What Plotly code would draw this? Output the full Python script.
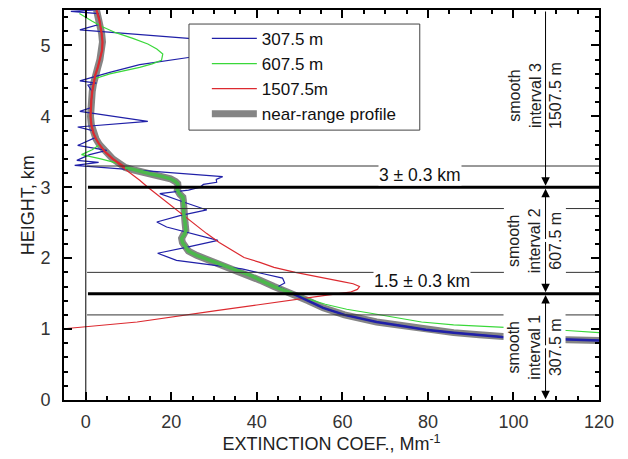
import plotly.graph_objects as go

# ---------------- data (height km, extinction Mm^-1) ----------------
near_profile = [
    (5.5, 2.5), (5.35, 3.2), (5.17, 3.7), (5.05, 3.9), (4.93, 3.8), (4.8, 3.3), (4.69, 2.8),
    (4.58, 2.2), (4.46, 1.8), (4.35, 1.5), (4.23, 1.3), (4.1, 1.1), (4.0, 1.1), (3.88, 1.3),
    (3.76, 1.8), (3.68, 2.4), (3.6, 3.2), (3.5, 4.5), (3.4, 6.3), (3.33, 8.0), (3.28, 9.2),
    (3.24, 11.5), (3.19, 15.0), (3.15, 18.0), (3.12, 19.8), (3.08, 21.0), (3.05, 21.5),
    (3.0, 21.6), (2.96, 21.4), (2.9, 22.0), (2.86, 22.7), (2.82, 22.8), (2.75, 22.8),
    (2.63, 22.9), (2.5, 23.2), (2.39, 23.4), (2.33, 23.0), (2.28, 22.4), (2.22, 22.6),
    (2.16, 23.2), (2.1, 24.0), (2.04, 25.9), (1.98, 28.5), (1.93, 30.6), (1.86, 33.8),
    (1.8, 36.8), (1.75, 38.8), (1.69, 40.7), (1.6, 44.0), (1.5, 48.4), (1.4, 52.0),
    (1.3, 55.5), (1.2, 60.5), (1.1, 68.0), (1.03, 75.5), (0.99, 79.5), (0.95, 86.0),
    (0.92, 92.0), (0.89, 97.3), (0.87, 104.0), (0.85, 112.5), (0.84, 120.0),
]

blue_307 = [
    (5.5, 2.5), (5.48, -3.5), (5.45, 2.9), (5.3, 3.4), (5.22, -1.4), (5.1, 24.0), (5.0, 32.0),
    (4.88, 30.0), (4.83, 24.0), (4.79, 19.6), (4.73, 12.6), (4.62, 5.6), (4.58, 3.3),
    (4.5, -1.4), (4.47, 2.5), (4.44, 0.5), (4.35, 1.5), (4.23, 1.3), (4.12, 1.1), (4.07, -1.4),
    (3.93, 14.5), (3.85, -1.9), (3.8, 1.6), (3.7, 2.2), (3.59, -1.9), (3.52, 4.9), (3.46, 0.9),
    (3.38, -2.1), (3.35, 3.0), (3.31, -2.6), (3.15, 32.0), (3.11, 30.5), (3.07, 30.6),
    (3.04, 27.5), (3.0, 26.7), (2.96, 24.0), (2.91, 17.3), (2.8, 22.5), (2.68, 28.3),
    (2.6, 22.0), (2.51, 16.6), (2.44, 18.9), (2.25, 30.9), (2.16, 24.0), (2.07, 16.8),
    (1.97, 21.2), (1.9, 30.0), (1.85, 36.5), (1.78, 41.5), (1.72, 46.0), (1.65, 46.5),
    (1.6, 45.0), (1.52, 47.7), (1.4, 51.8), (1.3, 55.5), (1.2, 60.5), (1.1, 68.0),
    (1.03, 75.5), (0.99, 79.5), (0.95, 86.0), (0.92, 92.0), (0.89, 97.3), (0.87, 104.0),
    (0.85, 112.5), (0.84, 120.0),
]

green_607 = [
    (5.45, -1.5), (5.42, -0.7), (5.34, 1.5), (5.26, 4.0), (5.18, 7.0), (5.1, 11.0),
    (5.02, 14.5), (4.95, 16.6), (4.88, 18.0), (4.79, 17.7), (4.74, 15.5), (4.69, 12.6),
    (4.6, 5.6), (4.53, 2.1), (4.46, 1.8), (4.35, 1.5), (4.23, 1.3), (4.1, 1.1), (4.0, 1.1),
    (3.88, 1.3), (3.76, 1.8), (3.68, 2.4), (3.6, 3.2), (3.53, 1.5), (3.46, -1.0), (3.4, 3.5),
    (3.33, 8.0), (3.28, 9.2), (3.24, 11.5), (3.19, 15.0), (3.15, 18.0), (3.12, 19.8),
    (3.08, 21.0), (3.05, 21.5), (3.0, 21.6), (2.96, 21.4), (2.9, 22.0), (2.86, 22.7),
    (2.82, 22.8), (2.75, 22.8), (2.63, 22.9), (2.5, 23.2), (2.39, 23.4), (2.33, 23.0),
    (2.28, 22.4), (2.22, 22.6), (2.16, 23.2), (2.1, 24.0), (2.04, 25.9), (1.98, 28.5),
    (1.93, 30.6), (1.86, 33.8), (1.8, 36.8), (1.75, 38.8), (1.69, 40.7), (1.6, 44.0),
    (1.5, 48.6), (1.43, 51.7), (1.35, 56.0), (1.28, 61.0), (1.22, 67.0), (1.15, 73.5),
    (1.1, 78.5), (1.06, 86.0), (1.03, 97.0), (1.0, 106.0), (0.98, 112.5), (0.95, 120.0),
]

red_1507 = [
    (5.5, 2.5), (5.35, 3.2), (5.17, 3.7), (5.05, 3.9), (4.93, 3.8), (4.8, 3.3), (4.69, 2.8),
    (4.58, 2.2), (4.46, 1.8), (4.35, 1.5), (4.23, 1.3), (4.1, 1.1), (4.0, 1.1), (3.88, 1.3),
    (3.76, 1.8), (3.68, 2.4), (3.6, 3.2), (3.5, 4.5), (3.4, 6.2), (3.3, 8.2), (3.2, 10.5),
    (3.1, 12.6), (3.0, 14.5), (2.9, 16.6), (2.8, 18.8), (2.7, 20.8), (2.58, 23.5),
    (2.45, 26.2), (2.35, 28.2), (2.22, 31.2), (2.11, 34.4), (2.01, 37.0), (1.94, 40.7),
    (1.87, 44.0), (1.8, 49.0), (1.73, 55.4), (1.67, 60.0), (1.64, 62.5), (1.6, 64.0),
    (1.56, 63.5), (1.52, 61.8), (1.48, 56.4), (1.41, 47.7), (1.34, 40.0), (1.26, 30.5),
    (1.18, 21.2), (1.1, 12.0), (1.0, -6.0),
]

series_names = ["307.5 m", "607.5 m", "1507.5m", "near-range profile"]
x_ticks = [0, 20, 40, 60, 80, 100, 120]
y_ticks = [0, 1, 2, 3, 4, 5]
boundary_heights = [3.0, 1.5]            # bold lines
tolerance_heights = [3.3, 2.7, 1.8, 1.2]  # thin lines
boundary_labels = ["3 \u00b1 0.3 km", "1.5 \u00b1 0.3 km"]
interval_labels = ["smooth<br>interval 3<br>1507.5 m",
                   "smooth<br>interval 2<br>607.5 m",
                   "smooth<br>interval 1<br>307.5 m"]
arrow_x = 107.5

BLUE, GREEN, RED, GRAY = "#2020a8", "#3ad83a", "#dc2a30", "#858585"
FONT = "Liberation Sans, Arial, sans-serif"


def hx(pairs):
    return [p[1] for p in pairs], [p[0] for p in pairs]


fig = go.Figure()
nx, nh = hx(near_profile)
fig.add_trace(go.Scatter(x=nx, y=nh, mode="lines", name=series_names[3],
                         line=dict(color=GRAY, width=7), legendrank=4))
for data, col, name, rank in [(blue_307, BLUE, series_names[0], 1),
                              (green_607, GREEN, series_names[1], 2),
                              (red_1507, RED, series_names[2], 3)]:
    x, h = hx(data)
    fig.add_trace(go.Scatter(x=x, y=h, mode="lines", name=name,
                             line=dict(color=col, width=1.2), legendrank=rank))

# coloured overlay of the composite near-range profile
segs = [([p for p in near_profile if p[0] >= 3.28], RED, 2.2),
        ([p for p in near_profile if 1.5 <= p[0] <= 3.28], "#4cb84c", 3.5),
        ([p for p in near_profile if p[0] <= 1.5], BLUE, 2.5)]
for seg, col, w in segs:
    x, h = hx(seg)
    fig.add_trace(go.Scatter(x=x, y=h, mode="lines", showlegend=False,
                             line=dict(color=col, width=w), hoverinfo="skip"))

shapes = []
shapes.append(dict(type="line", xref="x", yref="y", x0=0, x1=0, y0=0, y1=5.5,
                   line=dict(color="black", width=1), layer="above"))
for h in tolerance_heights:
    shapes.append(dict(type="line", xref="x", yref="y", x0=0.3, x1=120, y0=h, y1=h,
                       line=dict(color="#333333", width=1), layer="above"))
for h in boundary_heights:
    shapes.append(dict(type="line", xref="x", yref="y", x0=0.5, x1=120, y0=h, y1=h,
                       line=dict(color="black", width=3), layer="above"))
# legend box
shapes.append(dict(type="rect", xref="paper", yref="paper", x0=0.2336, x1=0.665,
                   y0=0.692, y1=0.964, fillcolor="white",
                   line=dict(color="#444444", width=1), layer="above"))

annotations = []
# y-axis title
annotations.append(dict(x=-0.067, y=0.5, xref="paper", yref="paper", text="HEIGHT, km",
                        textangle=-90, showarrow=False, xanchor="center", yanchor="middle",
                        font=dict(size=18, color="#222", family=FONT)))
annotations.append(dict(x=78.2, y=3.025, xref="x", yref="y", text=boundary_labels[0],
                        showarrow=False, yanchor="bottom", bgcolor="white", borderpad=0,
                        font=dict(size=17.5, color="#111", family=FONT)))
annotations.append(dict(x=78.6, y=1.525, xref="x", yref="y", text=boundary_labels[1],
                        showarrow=False, yanchor="bottom", bgcolor="white", borderpad=0,
                        font=dict(size=17.5, color="#111", family=FONT)))
for lab, yc in zip(interval_labels, [4.3, 2.25, 0.75]):
    annotations.append(dict(x=105.0, y=yc, xref="x", yref="y", text=lab, textangle=-90,
                            showarrow=False, bgcolor="white", borderpad=1,
                            font=dict(size=16, color="#222", family=FONT)))
# vertical arrows
for tail, head in [(5.5, 3.02), (2.25, 2.98), (2.25, 1.52), (0.75, 1.48), (0.75, 0.01)]:
    annotations.append(dict(x=arrow_x, y=head, ax=arrow_x, ay=tail, xref="x", yref="y",
                            axref="x", ayref="y", text="", showarrow=True,
                            arrowhead=2, arrowsize=1.7, arrowwidth=1, arrowcolor="black"))

axis_common = dict(showline=True, linewidth=2, linecolor="black", mirror="ticks",
                   ticks="inside", ticklen=8, tickwidth=1.5, tickcolor="black",
                   showgrid=False, zeroline=False,
                   tickfont=dict(size=18, color="#333", family=FONT),
                   title_font=dict(size=18, color="#222", family=FONT))

fig.update_layout(
    width=628, height=459,
    margin=dict(l=64, r=29, t=10, b=59, autoexpand=False),
    plot_bgcolor="white", paper_bgcolor="white",
    shapes=shapes, annotations=annotations,
    showlegend=True,
    legend=dict(x=0.267, y=0.972, xanchor="left", yanchor="top",
                bgcolor="rgba(0,0,0,0)", borderwidth=0, itemwidth=45,
                font=dict(size=17, color="#111", family=FONT), tracegroupgap=0),
    xaxis=dict(range=[-5.1, 120], tickvals=x_ticks, ticklabelstandoff=4,
               minor=dict(dtick=5, tick0=0, ticks="inside", ticklen=4, tickcolor="black"),
               title=dict(text="EXTINCTION COEF., Mm<sup>-1</sup>", standoff=2),
               **axis_common),
    yaxis=dict(range=[0, 5.5], tickvals=y_ticks, ticklabelstandoff=8,
               minor=dict(dtick=0.2, tick0=0, ticks="inside", ticklen=4, tickcolor="black"),
               **axis_common),
)

fig.write_html("out.html")
